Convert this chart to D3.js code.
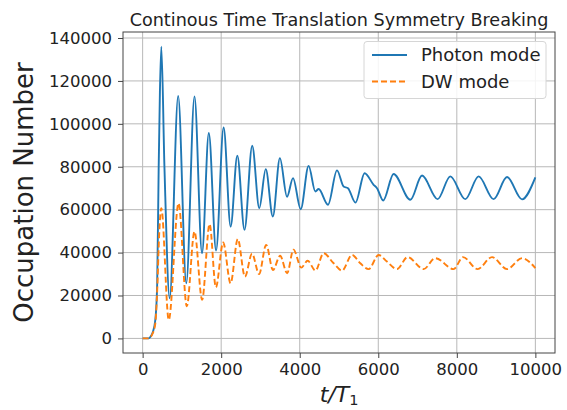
<!DOCTYPE html>
<html>
<head>
<meta charset="utf-8">
<script src="https://cdn.jsdelivr.net/npm/d3@7"></script>
<style>
  html, body { margin: 0; padding: 0; background: #fff; }
  svg { display: block; font-family: "DejaVu Sans", sans-serif; }
</style>
</head>
<body>
<svg id="chart" width="567" height="410"></svg>
<script>
// ---- data ----
const photonT = [0, 150, 200, 260, 323, 370, 408, 440, 476, 555, 688, 905, 1112, 1320, 1512, 1685, 1870, 2062, 2241, 2411, 2594, 2790, 2970, 3135, 3315, 3495, 3676, 3829, 4025, 4226, 4397, 4481, 4720, 4949, 5117, 5229, 5420, 5652, 5881, 5968, 6125, 6390, 6816, 7114, 7511, 7834, 8216, 8555, 8937, 9278, 9660, 10000];
const photonV = [0, 0, 800, 3000, 8600, 25000, 79000, 115000, 136000, 80000, 18700, 113000, 25700, 112800, 39700, 95700, 41000, 98300, 52100, 85200, 50600, 89800, 60700, 78900, 56800, 84000, 66000, 74700, 60200, 80400, 68500, 69600, 62300, 78300, 70800, 70000, 63300, 77000, 71600, 70000, 64300, 76600, 64600, 75900, 64900, 75500, 64900, 75500, 64900, 75200, 64800, 75000];

const dwT = [0, 150, 200, 260, 323, 370, 420, 476, 665, 915, 1125, 1320, 1515, 1705, 1865, 2050, 2240, 2422, 2605, 2785, 2965, 3145, 3320, 3500, 3680, 3840, 4040, 4200, 4400, 4608, 4863, 5077, 5331, 5543, 5754, 6009, 6222, 6477, 6747, 7154, 7452, 7918, 8157, 8529, 8896, 9278, 9660, 10000];
const dwV = [0, 0, 600, 2500, 7000, 22000, 48000, 60700, 8600, 63000, 15000, 49800, 18000, 53300, 23800, 44700, 25700, 46300, 28800, 39500, 30000, 43600, 31900, 38500, 30400, 41400, 33000, 36200, 31600, 39700, 35000, 31600, 38900, 35000, 32300, 38900, 35800, 32300, 37900, 32300, 37400, 32300, 37900, 32300, 37900, 32300, 37400, 32800];

const xTicks = [0, 2000, 4000, 6000, 8000, 10000];
const yTicks = [0, 20000, 40000, 60000, 80000, 100000, 120000, 140000];
const seriesNames = ["Photon mode", "DW mode"];
const seriesColors = ["#1f77b4", "#ff7f0e"];
const titleText = "Continous Time Translation Symmetry Breaking";
const yLabelText = "Occupation Number";

// ---- layout ----
const L = 123, R = 555, T = 32, B = 353;
const svg = d3.select("#chart");

const x = d3.scaleLinear().domain([-500, 10500]).range([L, R]);
const y = d3.scaleLinear().domain([-6800, 142800]).range([B, T]);

// grid
const g = svg.append("g");
g.selectAll("line.vg").data(xTicks).join("line")
  .attr("x1", d => x(d)).attr("x2", d => x(d))
  .attr("y1", T).attr("y2", B)
  .attr("stroke", "#b8b8b8").attr("stroke-width", 1);
g.selectAll("line.hg").data(yTicks).join("line")
  .attr("y1", d => y(d)).attr("y2", d => y(d))
  .attr("x1", L).attr("x2", R)
  .attr("stroke", "#b8b8b8").attr("stroke-width", 1);

// axes
const xAxis = d3.axisBottom(x).tickValues(xTicks).tickFormat(d3.format("d")).tickSize(5).tickPadding(5);
const yAxis = d3.axisLeft(y).tickValues(yTicks).tickFormat(d3.format("d")).tickSize(5).tickPadding(6);

const gx = svg.append("g").attr("transform", `translate(0,${B})`).call(xAxis);
const gy = svg.append("g").attr("transform", `translate(${L},0)`).call(yAxis);
[gx, gy].forEach(a => {
  a.select(".domain").remove();
  a.selectAll(".tick line").attr("stroke", "#444").attr("stroke-width", 1);
  a.selectAll(".tick text").attr("fill", "#222")
    .style("font-family", "'DejaVu Sans', sans-serif").style("font-size", "16.5px");
});

// lines
const line = d3.line().x(d => x(d[0])).y(d => y(d[1])).curve(d3.curveMonotoneX);
const photon = photonT.map((t, i) => [t, photonV[i]]);
const dw = dwT.map((t, i) => [t, dwV[i]]);

svg.append("path").datum(photon).attr("d", line)
  .attr("fill", "none").attr("stroke", seriesColors[0]).attr("stroke-width", 1.9)
  .attr("stroke-linejoin", "round");
svg.append("path").datum(dw).attr("d", line)
  .attr("fill", "none").attr("stroke", seriesColors[1]).attr("stroke-width", 1.9)
  .attr("stroke-dasharray", "6,3");

// frame
svg.append("rect").attr("x", L).attr("y", T).attr("width", R - L).attr("height", B - T)
  .attr("fill", "none").attr("stroke", "#444").attr("stroke-width", 1);

// title
svg.append("text").attr("x", (L + R) / 2).attr("y", 26)
  .attr("text-anchor", "middle").attr("fill", "#222")
  .style("font-size", "17.6px").text(titleText);

// y label
svg.append("text").attr("transform", `translate(33,${(T + B) / 2}) rotate(-90)`)
  .attr("text-anchor", "middle").attr("fill", "#222")
  .style("font-size", "26px").text(yLabelText);

// x label t/T_1
const xl = svg.append("text").attr("x", (L + R) / 2).attr("y", 402)
  .attr("text-anchor", "middle").attr("fill", "#222")
  .style("font-size", "22px").style("font-family", "'DejaVu Sans', sans-serif");
xl.append("tspan").style("font-style", "italic").text("t/T");
xl.append("tspan").attr("dy", 3).style("font-size", "14.5px").text("1");

// legend
const lg = svg.append("g");
lg.append("rect").attr("x", 364).attr("y", 41.5).attr("width", 182).attr("height", 57)
  .attr("rx", 3).attr("fill", "#fff").attr("fill-opacity", 0.85)
  .attr("stroke", "#d6d6d6").attr("stroke-width", 1);
const legY = [55, 81.5];
seriesNames.forEach((name, i) => {
  lg.append("line").attr("x1", 372).attr("x2", 407).attr("y1", legY[i]).attr("y2", legY[i])
    .attr("stroke", seriesColors[i]).attr("stroke-width", 1.8)
    .attr("stroke-dasharray", i === 1 ? "6,3" : null);
  lg.append("text").attr("x", 421).attr("y", legY[i]).attr("dy", "0.36em")
    .attr("fill", "#222").style("font-size", "18px").text(name);
});
</script>
</body>
</html>
